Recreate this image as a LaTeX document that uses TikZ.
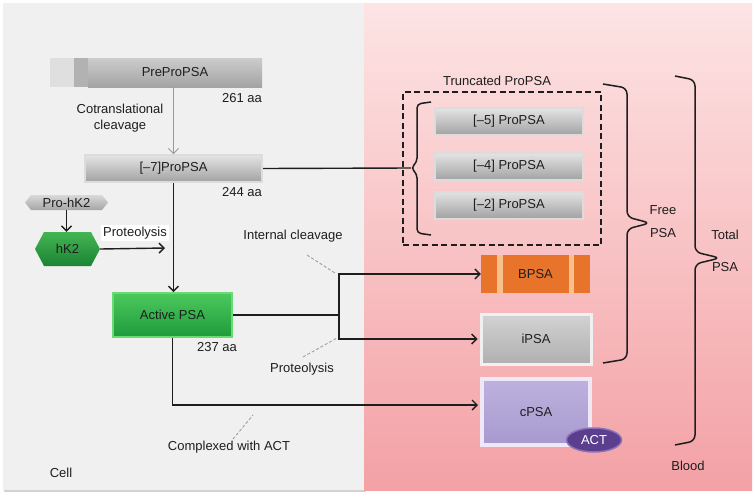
\documentclass[tikz,border=0pt]{standalone}
\usepackage{fontspec}
\setmainfont{Liberation Sans}
\usetikzlibrary{arrows.meta,shapes.geometric}

\definecolor{cellbg}{HTML}{F0F0F0}
\definecolor{bloodtop}{HTML}{FDE4E4}
\definecolor{bloodbot}{HTML}{F3A1A5}
\definecolor{glosstop}{HTML}{E4E4E4}
\definecolor{glossbot}{HTML}{A2A2A2}
\definecolor{glossedge}{HTML}{DCDCDC}
\definecolor{greentop}{HTML}{4CC95C}
\definecolor{greenbot}{HTML}{1E9B3C}
\definecolor{greenedge}{HTML}{6ADB74}
\definecolor{bpsafill}{HTML}{E8732A}
\definecolor{bstripe}{HTML}{F9C08C}
\definecolor{cpsatop}{HTML}{BDB2DE}
\definecolor{cpsabot}{HTML}{A799CF}
\definecolor{cpsaedge}{HTML}{F0E8F6}
\definecolor{actfill}{HTML}{5B3F8E}
\definecolor{actedge}{HTML}{8A72B8}
\definecolor{inkk}{HTML}{1E1E1E}

\tikzset{
  lbl/.style={font=\fontsize{13}{16}\selectfont, text=inkk, inner sep=1pt},
  glossbox/.style={lbl, top color=glosstop, bottom color=glossbot, draw=glossedge,
    line width=2pt, minimum height=27, inner sep=0pt},
  greenbox/.style={lbl, top color=greentop, bottom color=greenbot, draw=greenedge,
    line width=2pt, inner sep=0pt},
  link/.style={line width=1.4pt, draw=inkk},
  arr/.style={link, -{Straight Barb[length=5pt,width=10pt]}},
  thinarr/.style={line width=0.8pt, draw=gray!80, -{Straight Barb[length=5pt,width=10pt]}},
  pointer/.style={line width=0.9pt, draw=gray!75, dash pattern=on 3pt off 2pt},
  bracket/.style={line width=1.5pt, draw=inkk, rounded corners=6pt},
}

\begin{document}
\begin{tikzpicture}[x=1pt,y=-1pt]
\newcommand\hexnode[8]{% name, fill style, cx, cy, half width, half height, chamfer, text
\shade [#2] (#3-#5, #4) -- (#3-#5+#7, #4-#6) -- (#3+#5-#7, #4-#6) -- (#3+#5, #4) -- (#3+#5-#7, #4+#6) -- (#3-#5+#7, #4+#6) -- cycle;%
\node (#1) at (#3, #4) [lbl, minimum width=2*#5, minimum height=2*#6, inner sep=0pt] {#8};%
}
\useasboundingbox (0,0) rectangle (755,498);
\fill [white] (0,0) rectangle (755,498);

% the two compartments
\fill [gray!35] (4,5) rectangle (366,492);
\fill [cellbg] (3,3) rectangle (364,490);
\shade [top color=bloodtop, bottom color=bloodbot] (364,3) rectangle (752,490);

% cell side
\fill [gray!25] (50,58) rectangle (74,87);
\fill [gray!60] (74,58) rectangle (88,87);
\node (prepro) at (175,72.5) [lbl, top color=gray!40, bottom color=gray!72, minimum width=174, minimum height=29, inner sep=0pt] {PreProPSA};
\node (aa261) at (242,98) [lbl] {261 aa};
\node (cotrans) at (120,118) [lbl, align=center] {Cotranslational\\cleavage};

\node (pre7) at (173.5,168.5) [glossbox, minimum width=177] {[--7]ProPSA};
\node (aa244) at (242,192) [lbl] {244 aa};

\hexnode{prohk}{top color=gray!30, bottom color=gray!70}{66.5}{202.5}{41.5}{7.5}{6}{Pro-hK2}
\hexnode{hk}{top color=greentop!90!black, bottom color=greenbot!85!black}{67.5}{249}{32.5}{17}{9}{hK2}
\node (protext) at (135,233) [lbl, fill=white, inner sep=2pt] {Proteolysis};
\coordinate (hkend) at (165,248);

\node (active) at (172.5,315) [greenbox, minimum width=119, minimum height=44] {Active PSA};
\node (aa237) at (217,347) [lbl] {237 aa};

\node (intcl) at (293,236) [lbl] {Internal cleavage};
\node (proteol) at (302,369) [lbl] {Proteolysis};
\node (complex) at (229,447) [lbl] {Complexed with ACT};
\node (cell) at (61,473) [lbl] {Cell};

% blood side
\node (trunc) at (502,168.5) [draw=inkk, line width=1.8pt, dash pattern=on 6pt off 3.5pt, minimum width=198, minimum height=153] {};
\node (trunctext) at (497,81) [lbl] {Truncated ProPSA};
\node (pre5) at (509,121.5) [glossbox, minimum width=148] {[--5] ProPSA};
\node (pre4) at (509,166.5) [glossbox, minimum width=148] {[--4] ProPSA};
\node (pre2) at (509,205) [glossbox, minimum width=148] {[--2] ProPSA};

\node (bpsa) at (535.5,274) [lbl, fill=bpsafill, minimum width=109, minimum height=38] {BPSA};
\fill [bstripe] ([xshift=16pt]bpsa.north west) rectangle ([xshift=22pt]bpsa.south west);
\fill [bstripe] ([xshift=88pt]bpsa.north west) rectangle ([xshift=93pt]bpsa.south west);

\node (ipsa) at (536,339) [lbl, top color=gray!35, bottom color=gray!62, draw=gray!12, line width=3pt, minimum width=110, minimum height=50] {iPSA};
\node (cpsa) at (536,412) [lbl, top color=cpsatop, bottom color=cpsabot, draw=cpsaedge, line width=4pt, minimum width=108, minimum height=66] {cPSA};
\node (act) at (594,440) [lbl, ellipse, fill=actfill, draw=actedge, line width=1.5pt, text=white, minimum width=55, minimum height=24, inner sep=0pt] {ACT};

\node (free) at (663,210) [lbl] {Free};
\node (freepsa) at (663,233) [lbl] {PSA};
\node (total) at (725,235) [lbl] {Total};
\node (totalpsa) at (725,267) [lbl] {PSA};
\node (blood) at (688,466) [lbl] {Blood};

% brackets
\coordinate (trtip) at (411,168);
\draw [bracket, rounded corners=4pt] (431,102) -- (417,104) -- (417,162) -- (trtip) -- (417,174) -- (417,233) -- (431,235);
\draw [bracket] (603,84) -- (627,88) -- (627,217) -- (650,223) -- (627,229) -- (627,359) -- (603,363);
\draw [bracket] (675,76) -- (695,80) -- (695,252) -- (720,258) -- (695,264) -- (695,441) -- (675,445);

% connectors
\draw [thinarr] (pre7.north |- prepro.south) -- (pre7.north);
\draw [link] (pre7.east) -- (trtip);
\draw [arr] (pre7.south) -- (pre7.south |- active.north);
\draw [arr] (prohk.south) -- (prohk.south |- hk.north);
\draw [arr] (hk.east) -- (hkend);

\coordinate (fork) at (339,315);
\draw [link] (active.east) -- (fork);
\draw [arr] (fork) |- (bpsa.west);
\draw [arr] (fork) |- ([xshift=-2pt]ipsa.west);
\draw [arr] (active.south) |- ([xshift=-2pt, yshift=7pt]cpsa.west);

% pointers to the labels
\coordinate (intclend) at (335,273);
\coordinate (proteolend) at (337,338);
\coordinate (complexend) at (253,415);
\draw [pointer] (307,255) -- (intclend);
\draw [pointer] (303,357) -- (proteolend);
\draw [pointer] (233,439) -- (complexend);
\end{tikzpicture}
\end{document}
